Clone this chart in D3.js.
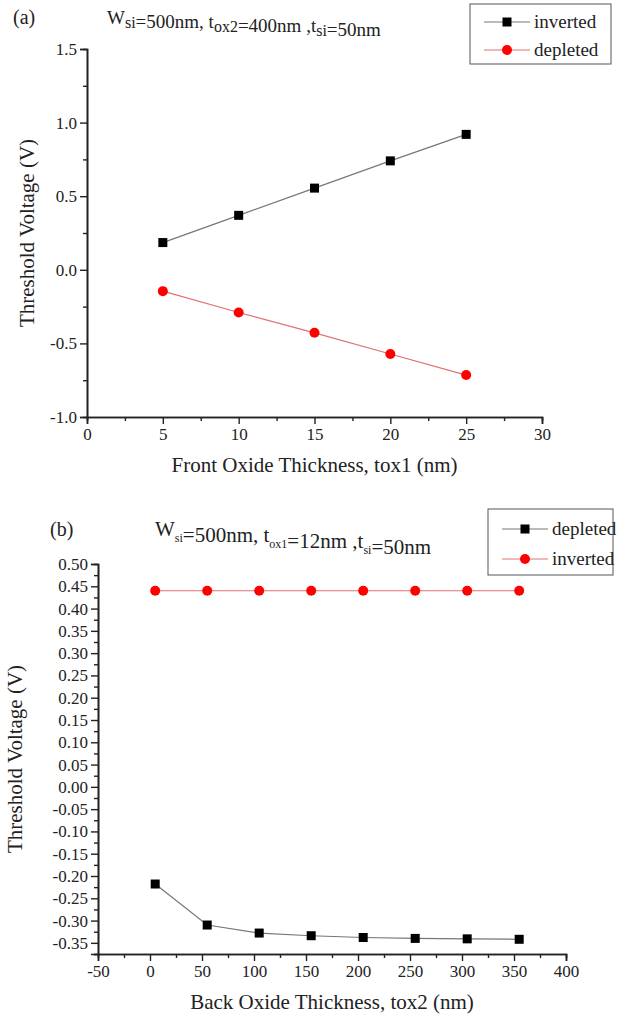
<!DOCTYPE html>
<html>
<head>
<meta charset="utf-8">
<script src="https://cdn.jsdelivr.net/npm/d3@7"></script>
<style>
body { margin: 0; background: #fff; }
svg text { font-family: "Liberation Serif", "Times New Roman", serif; fill: #222; }
</style>
</head>
<body>
<div id="chart"></div>
<script>
// panel (a): front oxide thickness
var a_x = [5, 10, 15, 20, 25];
var a_inverted = [0.185, 0.37, 0.555, 0.74, 0.92];
var a_depleted = [-0.145, -0.29, -0.428, -0.572, -0.715];
var a_xticks = [0, 5, 10, 15, 20, 25, 30];
var a_xminor = [2.5, 7.5, 12.5, 17.5, 22.5, 27.5];
var a_yticks = [-1.0, -0.5, 0.0, 0.5, 1.0, 1.5];
var a_yminor = [-0.75, -0.25, 0.25, 0.75, 1.25];

// panel (b): back oxide thickness
var b_x = [5, 55, 105, 155, 205, 255, 305, 355];
var b_depleted = [-0.218, -0.31, -0.328, -0.334, -0.338, -0.340, -0.341, -0.342];
var b_inverted = [0.44, 0.44, 0.44, 0.44, 0.44, 0.44, 0.44, 0.44];
var b_xticks = [-50, 0, 50, 100, 150, 200, 250, 300, 350, 400];
var b_xminor = [-25, 25, 75, 125, 175, 225, 275, 325, 375];
var b_yticks = [-0.35, -0.30, -0.25, -0.20, -0.15, -0.10, -0.05, 0.00, 0.05, 0.10, 0.15, 0.20, 0.25, 0.30, 0.35, 0.40, 0.45, 0.50];
var b_yminor = [-0.375, -0.325, -0.275, -0.225, -0.175, -0.125, -0.075, -0.025, 0.025, 0.075, 0.125, 0.175, 0.225, 0.275, 0.325, 0.375, 0.425, 0.475];

var width = 621, height = 1021;
var serif = "'Liberation Serif', 'Times New Roman', serif";

var svg = d3.select("#chart").append("svg")
	.attr("width", width)
	.attr("height", height);

function fmt(spec) {
	var f = d3.format(spec);
	return function(d) { return f(d).replace("\u2212", "-"); };
}

function drawPanel(p) {
	var g = svg.append("g");

	var xScale = d3.scaleLinear().domain(p.xdomain).range([p.left, p.right]);
	var yScale = d3.scaleLinear().domain(p.ydomain).range([p.bottom, p.top]);

	// minor ticks first
	g.append("g")
		.attr("transform", "translate(0," + p.bottom + ")")
		.call(d3.axisBottom(xScale).tickValues(p.xminor).tickSize(4).tickFormat(""))
		.call(styleAxis);
	g.append("g")
		.attr("transform", "translate(" + p.left + ",0)")
		.call(d3.axisLeft(yScale).tickValues(p.yminor).tickSize(4).tickFormat(""))
		.call(styleAxis);

	g.append("g")
		.attr("transform", "translate(0," + p.bottom + ")")
		.call(d3.axisBottom(xScale).tickValues(p.xticks).tickSize(7).tickPadding(4).tickFormat(p.xfmt))
		.call(styleAxis);
	g.append("g")
		.attr("transform", "translate(" + p.left + ",0)")
		.call(d3.axisLeft(yScale).tickValues(p.yticks).tickSize(7).tickPadding(3).tickFormat(p.yfmt))
		.call(styleAxis);

	// axis titles
	g.append("text")
		.attr("x", (p.left + p.right) / 2)
		.attr("y", p.xlabelY)
		.attr("text-anchor", "middle")
		.style("font-family", serif)
		.attr("font-size", 21)
		.text(p.xlabel);
	g.append("text")
		.attr("transform", "translate(" + p.ylabelX + "," + ((p.top + p.bottom) / 2) + ") rotate(-90)")
		.attr("text-anchor", "middle")
		.style("font-family", serif)
		.attr("font-size", 21)
		.text("Threshold Voltage (V)");

	// series
	p.series.forEach(function(s) {
		var line = d3.line()
			.x(function(d) { return xScale(d[0]); })
			.y(function(d) { return yScale(d[1]); });
		var pts = p.x.map(function(v, i) { return [v, s.values[i]]; });
		g.append("path")
			.datum(pts)
			.attr("d", line)
			.attr("fill", "none")
			.attr("stroke", s.lineColor)
			.attr("stroke-width", 1.2);
		drawMarkers(g, pts.map(function(d) { return [xScale(d[0]), yScale(d[1])]; }), s);
	});

	// panel tag + title
	g.append("text")
		.attr("x", p.tagX).attr("y", p.tagY)
		.style("font-family", serif)
		.attr("font-size", 20)
		.text(p.tag);
	var t = g.append("text")
		.attr("x", p.titleX).attr("y", p.titleY)
		.style("font-family", serif)
		.attr("font-size", p.titleSize);
	p.title.forEach(function(part) {
		if (part.sub) {
			t.append("tspan").attr("dy", p.subDy).attr("font-size", p.subSize).text(part.text);
			t.append("tspan").attr("dy", -p.subDy).text("");
		} else {
			t.append("tspan").text(part.text);
		}
	});

	// legend
	var lg = g.append("g");
	lg.append("rect")
		.attr("x", p.legend.x).attr("y", p.legend.y)
		.attr("width", p.legend.w).attr("height", p.legend.h)
		.attr("fill", "white")
		.attr("stroke", "#555")
		.attr("stroke-width", 1);
	p.series.forEach(function(s, i) {
		var cy = p.legend.y + p.legend.first + i * p.legend.step;
		var x0 = p.legend.x + 14;
		lg.append("line")
			.attr("x1", x0).attr("x2", x0 + 46)
			.attr("y1", cy).attr("y2", cy)
			.attr("stroke", s.lineColor)
			.attr("stroke-width", 1.2);
		drawMarkers(lg, [[x0 + 23, cy]], s);
		lg.append("text")
			.attr("x", x0 + 50).attr("y", cy + 6)
			.style("font-family", serif)
			.attr("font-size", 19)
			.text(s.name);
	});
}

function drawMarkers(g, pts, s) {
	if (s.shape === "square") {
		g.selectAll(null).data(pts).enter().append("rect")
			.attr("x", function(d) { return d[0] - 4.5; })
			.attr("y", function(d) { return d[1] - 4.5; })
			.attr("width", 9).attr("height", 9)
			.attr("fill", s.color);
	} else {
		g.selectAll(null).data(pts).enter().append("circle")
			.attr("cx", function(d) { return d[0]; })
			.attr("cy", function(d) { return d[1]; })
			.attr("r", 5)
			.attr("fill", s.color);
	}
}

function styleAxis(sel) {
	sel.attr("font-family", null);
	sel.select(".domain").attr("stroke", "#222").attr("stroke-width", 1.6);
	sel.selectAll(".tick line").attr("stroke", "#222").attr("stroke-width", 1.4);
	sel.selectAll(".tick text")
		.style("font-family", serif)
		.attr("font-size", 17)
		.attr("fill", "#222");
}

drawPanel({
	x: a_x,
	xdomain: [0, 30], ydomain: [-1.0, 1.5],
	left: 87, right: 542, top: 49, bottom: 417,
	xticks: a_xticks, xminor: a_xminor, yticks: a_yticks, yminor: a_yminor,
	xfmt: fmt("d"), yfmt: fmt(".1f"),
	xlabel: "Front Oxide Thickness, tox1 (nm)", xlabelY: 472, ylabelX: 34,
	tag: "(a)", tagX: 13, tagY: 24,
	title: [{text: "W"}, {text: "si", sub: true}, {text: "=500nm, t"}, {text: "ox2", sub: true},
		{text: "=400nm ,t"}, {text: "si", sub: true}, {text: "=50nm"}],
	titleX: 107, titleY: 24, titleSize: 19, subDy: 4, subSize: 16,
	legend: {x: 470, y: 4, w: 141, h: 60, first: 18, step: 28},
	series: [
		{name: "inverted", values: a_inverted, color: "#000", lineColor: "#777", shape: "square"},
		{name: "depleted", values: a_depleted, color: "#f00", lineColor: "#e07070", shape: "circle"}
	]
});

drawPanel({
	x: b_x,
	xdomain: [-50, 400], ydomain: [-0.375, 0.5],
	left: 98, right: 566, top: 564, bottom: 954,
	xticks: b_xticks, xminor: b_xminor, yticks: b_yticks, yminor: b_yminor,
	xfmt: fmt("d"), yfmt: fmt(".2f"),
	xlabel: "Back Oxide Thickness, tox2 (nm)", xlabelY: 1009, ylabelX: 22,
	tag: "(b)", tagX: 50, tagY: 536,
	title: [{text: "W"}, {text: "si", sub: true}, {text: "=500nm, t"}, {text: "ox1", sub: true},
		{text: "=12nm ,t"}, {text: "si", sub: true}, {text: "=50nm"}],
	titleX: 155, titleY: 536, titleSize: 21, subDy: 6, subSize: 12,
	legend: {x: 488, y: 509, w: 125, h: 66, first: 20, step: 30},
	series: [
		{name: "depleted", values: b_depleted, color: "#000", lineColor: "#777", shape: "square"},
		{name: "inverted", values: b_inverted, color: "#f00", lineColor: "#e07070", shape: "circle"}
	]
});
</script>
</body>
</html>
